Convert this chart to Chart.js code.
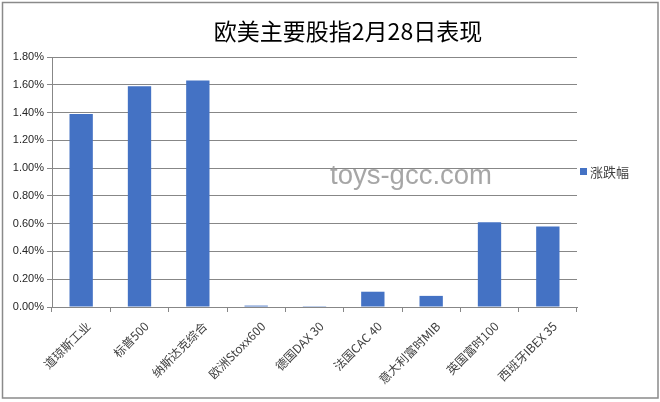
<!DOCTYPE html>
<html>
<head>
<meta charset="utf-8">
<script src="https://cdn.jsdelivr.net/npm/chart.js@4"></script>
<style>
html,body{margin:0;padding:0;background:#fff;}
#wrap{position:relative;width:660px;height:402px;}
</style>
</head>
<body>
<div id="wrap"><canvas id="c" width="660" height="402"></canvas></div>
<script>
const titleText = '欧美主要股指2月28日表现';
const seriesName = '涨跌幅';
const watermark = 'toys-gcc.com';
const categories = ['道琼斯工业', '标普500', '纳斯达克综合', '欧洲Stoxx600', '德国DAX 30', '法国CAC 40', '意大利富时MIB', '英国富时100', '西班牙IBEX 35'];
const values = [1.39, 1.59, 1.63, 0.01, 0.006, 0.11, 0.08, 0.61, 0.58];
const yTicks = [0, 0.2, 0.4, 0.6, 0.8, 1.0, 1.2, 1.4, 1.6, 1.8];

const BAR = '#4472C4';
const GRID = '#878787';

const decor = {
  id: 'decor',
  beforeDraw(chart) {
    const ctx = chart.ctx;
    ctx.save();
    ctx.fillStyle = '#fff';
    ctx.fillRect(0, 0, chart.width, chart.height);
    ctx.restore();
  },
  afterDraw(chart) {
    const ctx = chart.ctx;
    ctx.save();
    // outer border
    ctx.strokeStyle = '#8a8a8a';
    ctx.lineWidth = 1.5;
    ctx.strokeRect(2.5, 2.5, 655.5, 395.5);
    // title
    ctx.fillStyle = '#000';
    ctx.font = '23px "Noto Sans CJK SC"';
    ctx.textAlign = 'center';
    ctx.textBaseline = 'middle';
    ctx.fillText(titleText, 348, 31);
    // legend
    ctx.fillStyle = BAR;
    ctx.fillRect(580, 168, 7, 7);
    ctx.fillStyle = '#404040';
    ctx.font = '13px "Noto Sans CJK SC"';
    ctx.textAlign = 'left';
    ctx.fillText(seriesName, 590, 172);
    // watermark
    ctx.fillStyle = 'rgba(150,150,150,0.85)';
    ctx.font = '27.5px "Liberation Sans"';
    ctx.textAlign = 'left';
    ctx.fillText(watermark, 330, 176);
    ctx.restore();
  }
};

new Chart(document.getElementById('c'), {
  type: 'bar',
  data: {
    labels: categories,
    datasets: [{
      label: seriesName,
      data: values,
      backgroundColor: BAR,
      borderWidth: 0,
      barPercentage: 0.4,
      categoryPercentage: 1.0
    }]
  },
  options: {
    responsive: false,
    animation: false,
    layout: { padding: { top: 57, right: 83, bottom: 0, left: 0 } },
    plugins: {
      legend: { display: false },
      title: { display: false },
      tooltip: { enabled: false }
    },
    scales: {
      x: {
        afterFit(scale) { scale.height = 95; },
        grid: { display: true, drawOnChartArea: false, drawTicks: true, tickLength: 5, color: GRID, offset: true },
        border: { display: true, color: GRID, width: 1 },
        ticks: {
          minRotation: 45, maxRotation: 45, autoSkip: false,
          color: '#404040',
          font: { family: '"Noto Sans CJK SC"', size: 12 },
          padding: 7,
          labelOffset: 7
        }
      },
      y: {
        min: 0, max: 1.8,
        afterFit(scale) { scale.width = 52; },
        afterBuildTicks(scale) { scale.ticks = yTicks.map(v => ({ value: v })); },
        grid: { display: true, drawOnChartArea: true, drawTicks: true, tickLength: 5, color: GRID },
        border: { display: true, color: GRID, width: 1 },
        ticks: {
          color: '#262626',
          font: { family: '"Liberation Sans"', size: 11 },
          padding: 3,
          callback: v => Number(v).toFixed(2) + '%'
        }
      }
    }
  },
  plugins: [decor]
});
</script>
</body>
</html>
